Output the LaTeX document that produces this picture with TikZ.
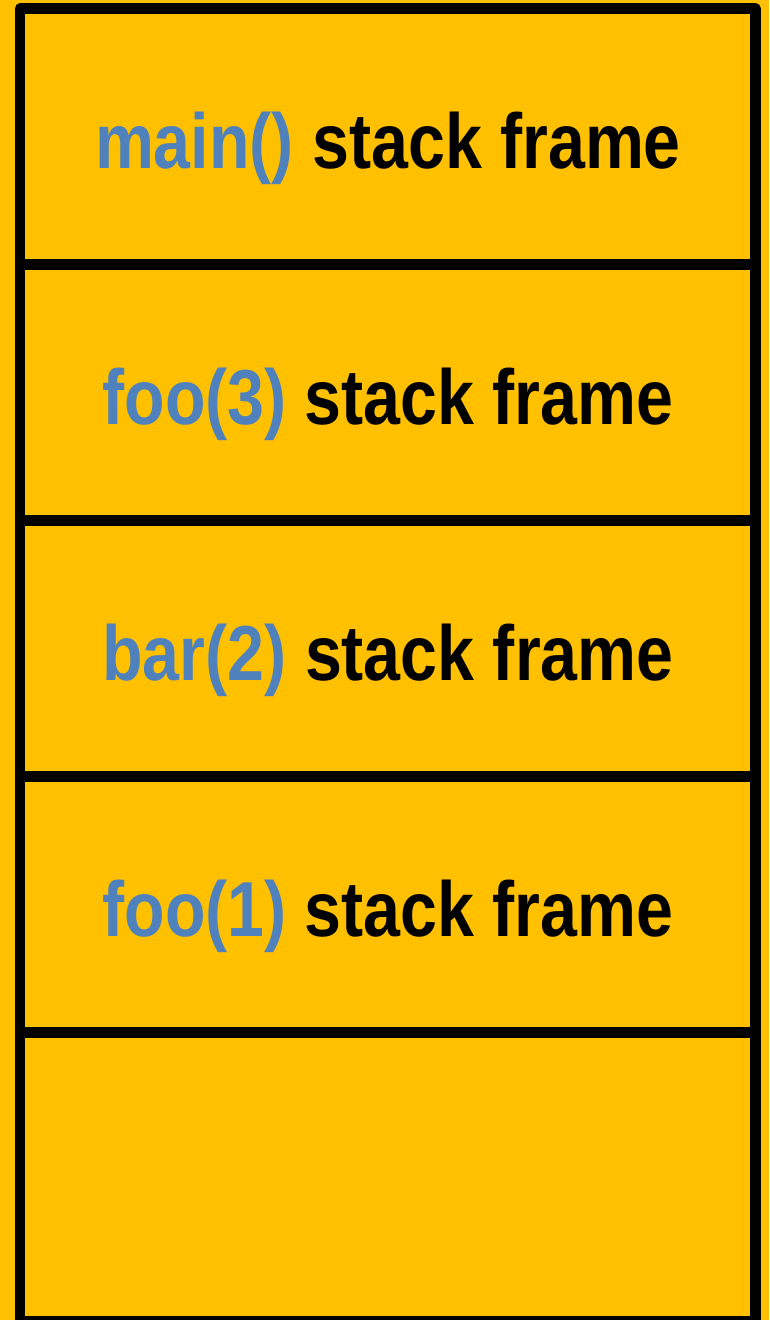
\documentclass[tikz,border=0pt]{standalone}
\usepackage{fontspec}
\setmainfont{Liberation Sans}[FakeStretch=0.85]
\usepackage{tikz}

\definecolor{stackgold}{HTML}{FFC000}
\definecolor{callblue}{HTML}{4F81BD}

\begin{document}
\begin{tikzpicture}[x=1pt, y=-1pt,
		stackline/.style = {line width = 10.5pt, line join = round},
		frametext/.style = {anchor = base, inner sep = 0pt, font = \bfseries\fontsize{78}{80}\selectfont}]
	\useasboundingbox[fill = stackgold] (0, 0) rectangle (769, 1320);
	% outer wall of the stack, the bottom runs off the page
	\draw[stackline] (20, 8.5) rectangle (755.5, 1321);
	\foreach \y in {264.5, 520.5, 776.5, 1032.5}
		\draw[stackline] (20, \y) -- (755.5, \y);
	% one frame per call
	\node[frametext] (mainframe) at (388, 168) {\textcolor{callblue}{main()} stack frame};
	\node[frametext] (foothree) at (388, 424) {\textcolor{callblue}{foo(3)} stack frame};
	\node[frametext] (bartwo) at (388, 680) {\textcolor{callblue}{bar(2)} stack frame};
	\node[frametext] (fooone) at (388, 936) {\textcolor{callblue}{foo(1)} stack frame};
\end{tikzpicture}
\end{document}
